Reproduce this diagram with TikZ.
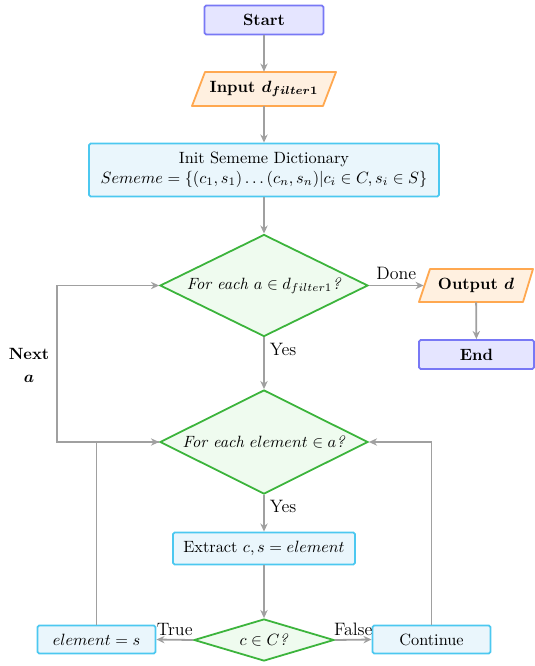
\documentclass[tikz,border=0pt]{standalone}
\usetikzlibrary{shapes.geometric,arrows.meta}
\newdimen\pxu
\pxu=0.613pt
\definecolor{sefill}{RGB}{229,229,255}
\definecolor{sedraw}{RGB}{120,120,245}
\definecolor{iofill}{RGB}{255,240,224}
\definecolor{iodraw}{RGB}{255,168,80}
\definecolor{prfill}{RGB}{234,246,252}
\definecolor{prdraw}{RGB}{76,200,240}
\definecolor{dcfill}{RGB}{239,251,239}
\definecolor{dcdraw}{RGB}{60,180,60}
\definecolor{arrgray}{RGB}{160,160,160}
\tikzset{
  sebox/.style={rectangle, rounded corners=1pt, draw=sedraw, fill=sefill, line width=1.1pt, font=\bfseries, inner sep=0pt},
  prbox/.style={rectangle, rounded corners=1pt, draw=prdraw, fill=prfill, line width=1.1pt, inner sep=0pt},
  ioshape/.style={draw=iodraw, fill=iofill, line width=1.1pt, line join=round},
  iotext/.style={rectangle, inner sep=0pt, font=\bfseries\boldmath},
  dcbox/.style={diamond, draw=dcdraw, fill=dcfill, line width=1.1pt, inner sep=0pt, aspect=2},
  conn/.style={draw=arrgray, line width=1.1pt, -{Stealth[length=5pt,width=4.5pt]}},
  lbl/.style={font=\fontsize{11}{13}\selectfont, inner sep=3pt}
}
\begin{document}
\begin{tikzpicture}[x=\pxu, y=-\pxu]
\useasboundingbox (0,0) rectangle (535,666);

% shapes
\node[sebox, minimum width=119\pxu, minimum height=29\pxu] (start) at (264,20) {Start};

\draw[ioshape] (192,106) -- (205,72) -- (336,72) -- (323,106) -- cycle;
\node[iotext, minimum width=131\pxu, minimum height=34\pxu] (input) at (264,89) {Input $d_{filter1}$};

\node[prbox, minimum width=350\pxu, minimum height=53\pxu, align=center] (init) at (264,170)
  {Init Sememe Dictionary\\ $Sememe = \{(c_1,s_1)\ldots(c_n,s_n)|c_i\in C, s_i\in S\}$};

\node[dcbox, minimum width=208\pxu, minimum height=102\pxu] (d1) at (264,285.5)
  {\textit{For each $a \in d_{filter1}$?}};

\draw[ioshape] (419,302) -- (430,269) -- (533,269) -- (523,302) -- cycle;
\node[iotext, minimum width=104\pxu, minimum height=33\pxu] (output) at (476,285.5) {Output $d$};

\node[sebox, minimum width=115\pxu, minimum height=29\pxu] (end) at (476.5,354.5) {End};

\node[dcbox, minimum width=208\pxu, minimum height=104\pxu] (d2) at (264,442)
  {\textit{For each $element \in a$?}};

\node[prbox, minimum width=182\pxu, minimum height=32\pxu] (extract) at (264,548.5)
  {Extract $c, s = element$};

\node[dcbox, aspect=3.3, minimum width=140\pxu, minimum height=42\pxu] (d3) at (264,640)
  {\textit{$c \in C$?}};

\node[prbox, minimum width=118\pxu, minimum height=28\pxu] (elems) at (96.5,639.5) {$element = s$};
\node[prbox, minimum width=118\pxu, minimum height=28\pxu] (cont) at (431.5,639.5) {Continue};

\coordinate (loop) at (57,442);

% connectors
\draw[conn] (start) -- (input);
\draw[conn] (input) -- (init);
\draw[conn] (init) -- (d1);
\draw[conn] (d1.east) -- node[lbl, above] (done) {Done} (output.west);
\draw[conn] (output) -- (end);
\draw[conn] (d1.south) -- node[lbl, below right, pos=0] (yes1) {Yes} (d2.north);
\draw[conn] (d2.south) -- node[lbl, below right, pos=0] (yes2) {Yes} (extract.north);
\draw[conn] (extract) -- (d3);
\draw[conn] (d3.west) -- node[lbl, above, inner sep=2pt] (true) {True} (elems.east);
\draw[conn] (d3.east) -- node[lbl, above, inner sep=2pt] (false) {False} (cont.west);
\draw[conn] (elems.north) |- (d2.west);
\draw[conn] (cont.north) |- (d2.east);
\draw[conn] (d2.west) -- (loop) |- (d1.west);

\node[font=\bfseries\boldmath, align=center, inner sep=0pt] (next) at (29,365) {Next\\[2pt]$a$};
\end{tikzpicture}
\end{document}
